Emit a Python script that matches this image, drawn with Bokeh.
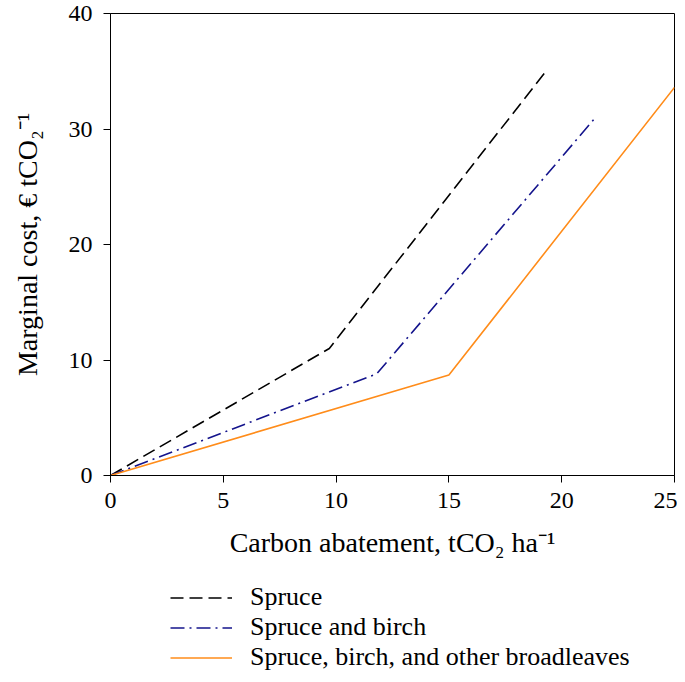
from bokeh.plotting import figure
from bokeh.models import Legend, LegendItem, FixedTicker, Range1d
from bokeh.layouts import column
from bokeh.embed import file_html
from bokeh.resources import INLINE

# Data
spruce_x = [0, 9.7, 19.3]
spruce_y = [0, 11.0, 35.0]
birch_x = [0, 11.8, 21.5]
birch_y = [0, 8.8, 31.0]
broad_x = [0, 15.0, 25.0]
broad_y = [0, 8.7, 33.6]

labels = ["Spruce", "Spruce and birch", "Spruce, birch, and other broadleaves"]
x_ticks = [0, 5, 10, 15, 20, 25]
y_ticks = [0, 10, 20, 30, 40]

FONT = "Liberation Serif"
styles = [dict(line_color="black", line_width=1.6, line_dash="13 6"),
          dict(line_color="#14148c", line_width=1.6, line_dash="14 5 2 5"),
          dict(line_color="#ff8c1a", line_width=1.6)]
series = [(spruce_x, spruce_y), (birch_x, birch_y), (broad_x, broad_y)]

p = figure(width=677, height=580, output_backend="svg", toolbar_location=None,
           x_range=Range1d(0, 25), y_range=Range1d(0, 40),
           min_border_left=110, min_border_right=3, min_border_top=13, min_border_bottom=105)
p.xgrid.visible = False
p.ygrid.visible = False
p.outline_line_color = "black"
p.outline_line_width = 1
p.background_fill_color = "white"
p.border_fill_color = "white"

for ax in (p.xaxis[0], p.yaxis[0]):
    ax.axis_line_color = "black"
    ax.major_tick_line_color = "black"
    ax.major_tick_out = 7
    ax.major_tick_in = 0
    ax.minor_tick_line_color = None
    ax.major_label_text_font = FONT
    ax.major_label_text_font_size = "24px"
    ax.major_label_text_color = "black"
    ax.axis_label_text_font = FONT
    ax.axis_label_text_font_size = "28px"
    ax.axis_label_text_font_style = "normal"
    ax.axis_label_text_color = "black"

p.xaxis.ticker = FixedTicker(ticks=x_ticks)
p.yaxis.ticker = FixedTicker(ticks=y_ticks)
p.xaxis.major_label_standoff = 10
p.yaxis.major_label_standoff = 11
p.xaxis.axis_label = "Carbon abatement, tCO\u2082 ha\u207b\u00b9"
p.yaxis.axis_label = "Marginal cost, \u20ac tCO\u2082\u207b\u00b9"
p.xaxis.axis_label_standoff = 16
p.yaxis.axis_label_standoff = 23

for (xs, ys), st in zip(series, styles):
    p.line(xs, ys, **st)

# Legend panel below the chart (lines drawn outside its view, legend only)
q = figure(width=677, height=95, output_backend="svg", toolbar_location=None,
           x_range=Range1d(1000, 1001), y_range=Range1d(1000, 1001),
           x_axis_location=None, y_axis_location=None,
           min_border_left=0, min_border_right=0, min_border_top=0, min_border_bottom=0)
q.xgrid.visible = False
q.ygrid.visible = False
q.outline_line_color = None
q.background_fill_color = "white"
q.border_fill_color = "white"
rs = [q.line(xs, ys, **st) for (xs, ys), st in zip(series, styles)]

legend = Legend(items=[LegendItem(label=lab, renderers=[r]) for lab, r in zip(labels, rs)],
                location=(60, 3), orientation="vertical",
                glyph_width=62, glyph_height=25, label_height=25,
                label_standoff=18, spacing=-4, padding=0, margin=0,
                border_line_color=None, background_fill_alpha=0,
                label_text_font=FONT, label_text_font_size="26px",
                label_text_color="black")
q.add_layout(legend, "center")

layout = column(p, q, spacing=0)
open("out.html", "w").write(file_html(layout, INLINE))
